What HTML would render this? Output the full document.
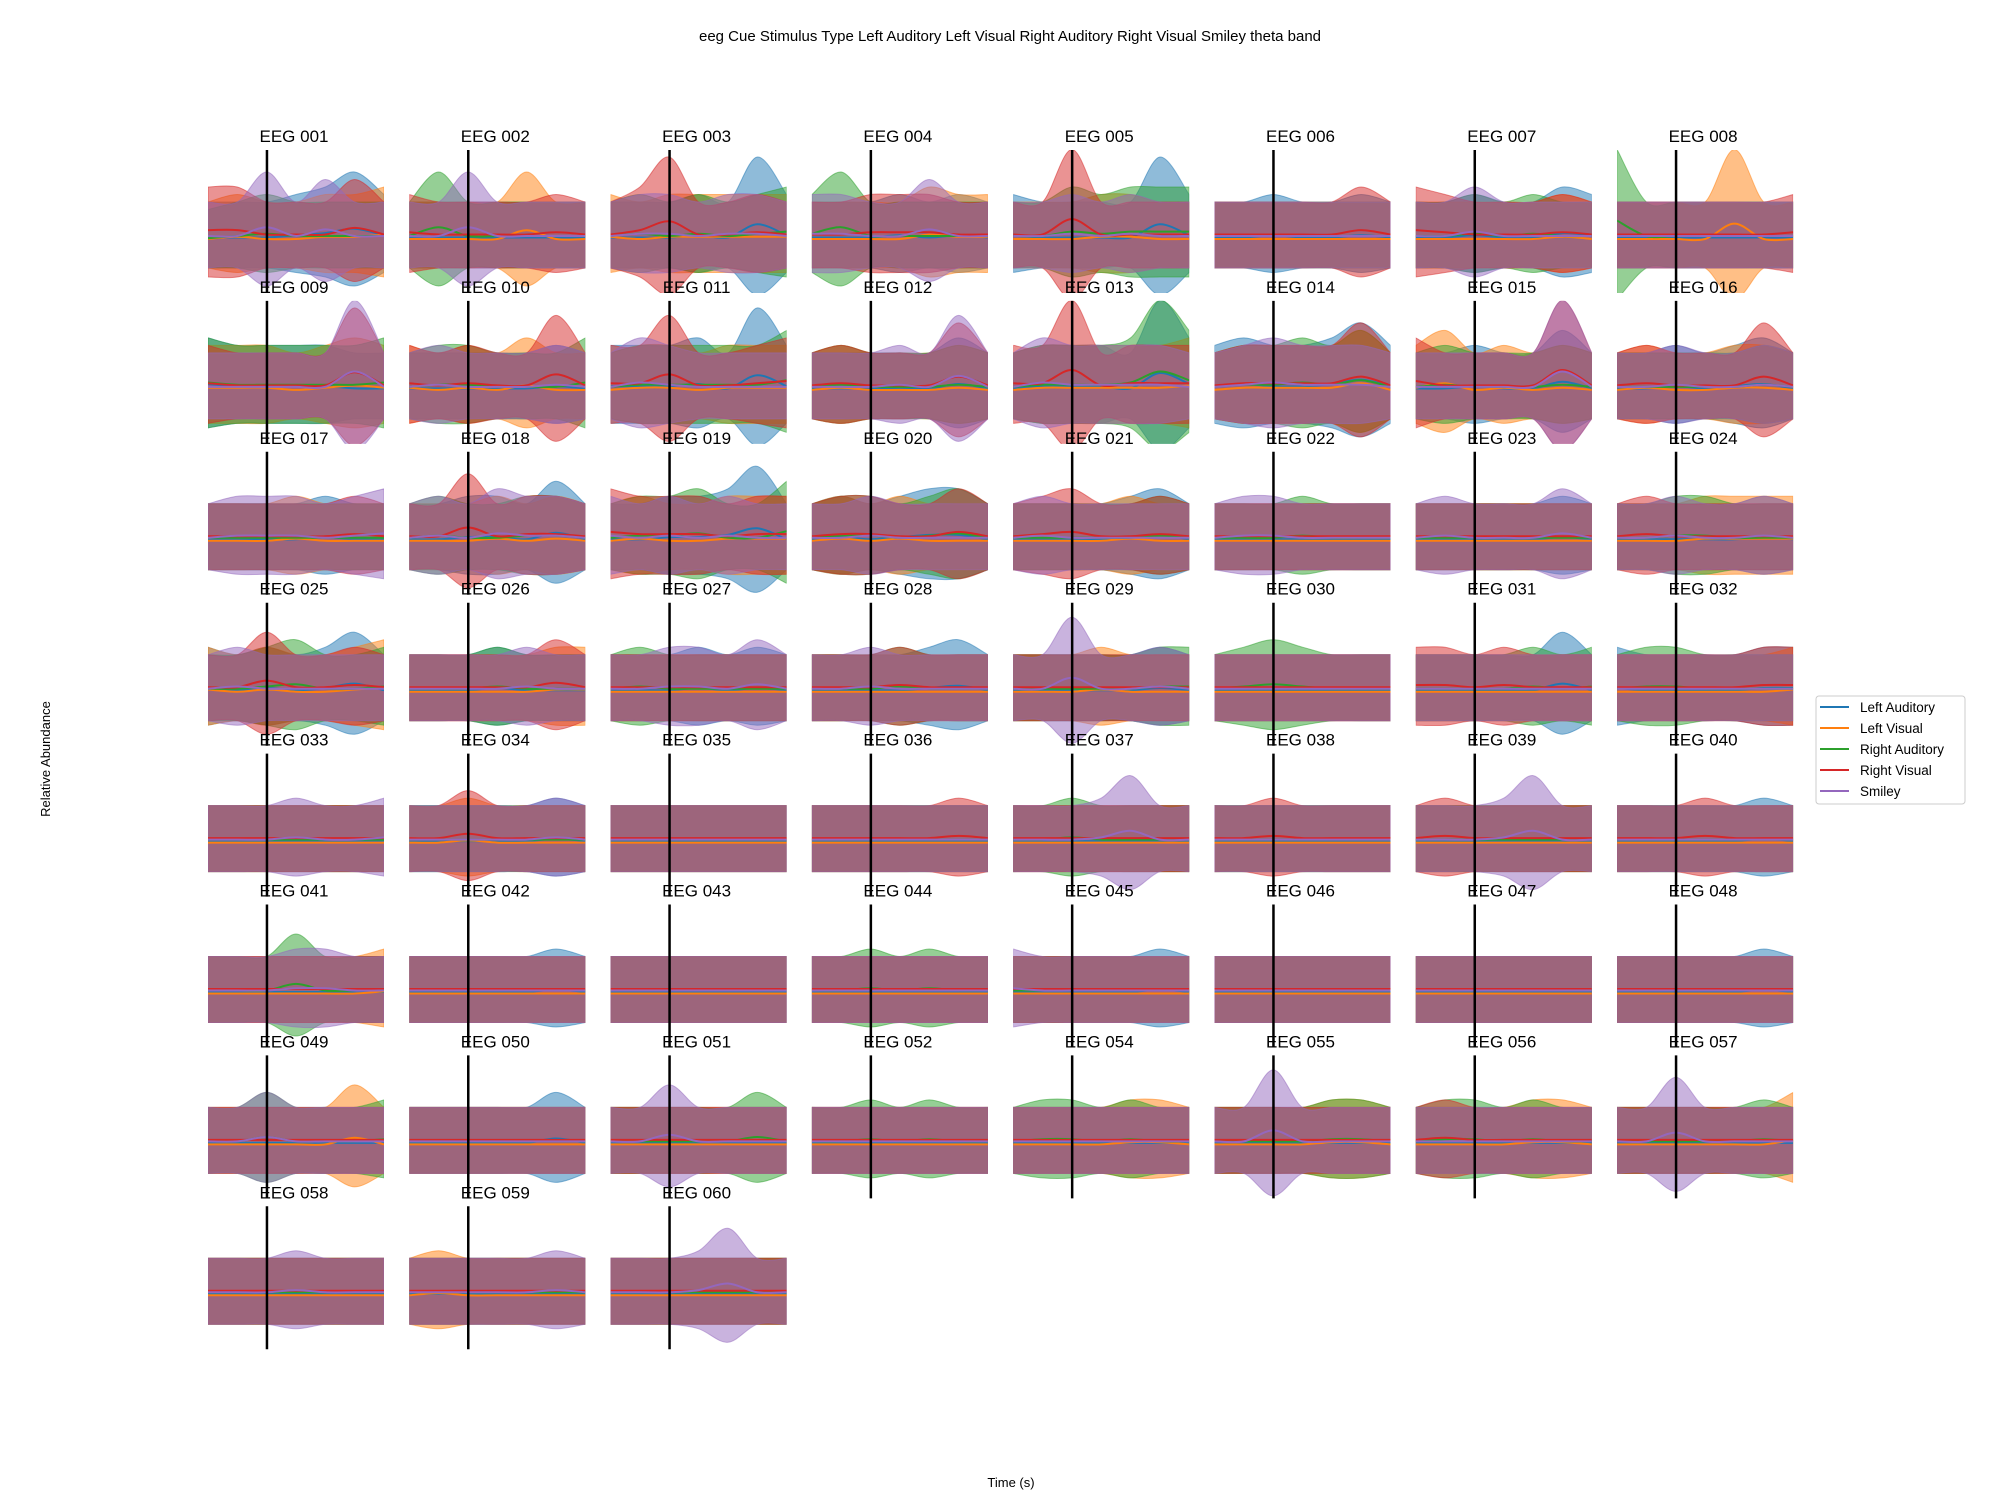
<!DOCTYPE html>
<html><head><meta charset="utf-8">
<style>
html,body{margin:0;padding:0;background:#fff;}
svg{display:block;font-family:"Liberation Sans","DejaVu Sans",sans-serif;}
</style></head>
<body>
<svg id="chart" width="2000" height="1500" viewBox="0 0 2000 1500" xmlns="http://www.w3.org/2000/svg">
<text x="1010" y="41" font-size="15" text-anchor="middle">eeg Cue Stimulus Type Left Auditory Left Visual Right Auditory Right Visual Smiley theta band</text>
<text x="1011" y="1487" font-size="13" text-anchor="middle">Time (s)</text>
<text x="50" y="759" font-size="13" text-anchor="middle" transform="rotate(-90 50 759)">Relative Abundance</text>
<g id="panels"></g>
<g>
<rect x="1816" y="696" width="149" height="108" rx="3" fill="#fff" stroke="#ccc"/>
</g>
<g id="legend-entries"></g>
</svg>
<script>
const seriesNames = ["Left Auditory","Left Visual","Right Auditory","Right Visual","Smiley"];
const seriesColors = ["#1f77b4","#ff7f0e","#2ca02c","#d62728","#9467bd"];
const panelNames = ["001","002","003","004","005","006","007","008","009","010","011","012","013","014","015","016","017","018","019","020","021","022","023","024","025","026","027","028","029","030","031","032","033","034","035","036","037","038","039","040","041","042","043","044","045","046","047","048","049","050","051","052","054","055","056","057","058","059","060"];
// band upper-extent levels (0-9) at 7 time points, per series (B,O,G,R,P)
const bandUpper = [
["2223463","2322334","1232222","4422252","2262522"],
["2222222","2222622","2622222","3222232","2262222"],
["2223283","3233333","2323234","2482232","2332332"],
["2223232","2222433","3622222","2233322","3322522"],
["3222283","2223322","2243444","2292222","2232322"],
["2232232","2222222","2222222","2222242","2222222"],
["2232243","2222232","2232322","4322232","2242222"],
["2222222","2222922","9222222","2222223","2222222"],
["4333322","3332343","4333334","3222282","2222292"],
["2222232","3232422","2332224","3232272","2322232"],
["3334283","2332333","2333335","3372234","2432222"],
["2222242","2322232","2322232","2322262","2223272"],
["2333294","2333334","2333495","3392333","2433332"],
["3433463","2333352","2334352","2333362","2343332"],
["2232252","3523232","2322232","4222292","2222292"],
["2232342","2322332","2222232","2322262","2232232"],
["2222322","2223222","2222222","2222232","2333234"],
["2233252","2223232","2322332","2262332","2324332"],
["2233472","2322333","2334225","4333233","3232322"],
["2323442","2323222","2332342","2332242","2232222"],
["2222342","2222322","2222232","2342232","2322222"],
["2222222","2222222","2223222","2222222","2332222"],
["2222232","2222222","2222222","2222222","2322242"],
["2222232","2223333","2233222","2322222","2232232"],
["3232352","3232234","2234223","2252232","2322222"],
["2223222","2222233","2223222","2222242","2222322"],
["2223232","2222222","2322222","2222222","2233242"],
["2222342","2222222","2223222","2223222","2232222"],
["2222232","2223222","2222233","2222222","2272232"],
["2222222","2222222","2343222","2222222","2222222"],
["2222252","2222222","2222323","3323222","2222222"],
["3222233","2222223","2332222","2222233","2222222"],
["2222222","2222222","2222222","2222222","2223223"],
["2222232","2232222","2222222","2242222","2222232"],
["2222222","2222222","2222222","2222222","2222222"],
["2222222","2222222","2222222","2222232","2222222"],
["2222222","2222222","2232222","2222222","2223622"],
["2222222","2222222","2222222","2232222","2222222"],
["2222222","2222222","2222222","2322222","2223622"],
["2222232","2222222","2222222","2223222","2222222"],
["2222222","2222223","2225222","2222222","2223322"],
["2222232","2222222","2222222","2222222","2222222"],
["2222222","2222222","2222222","2222222","2222222"],
["2222222","2222222","2232322","2222222","2222222"],
["2222232","2222222","2222222","2222222","3222222"],
["2222222","2222222","2222222","2222222","2222222"],
["2222222","2222222","2222222","2222222","2222222"],
["2222232","2222222","2222222","2222222","2222222"],
["2222222","2222252","2242223","2222222","2242222"],
["2222242","2222222","2222222","2222222","2222222"],
["2222222","2222222","2222242","2222222","2252222"],
["2222222","2222222","2232322","2222222","2222222"],
["2222222","2222332","2332322","2222222","2222222"],
["2222222","2222332","2222332","2222222","2272222"],
["2222222","2222332","2332322","2322222","2222222"],
["2222222","2222224","2222232","2222222","2262222"],
["2222222","2222222","2222222","2222222","2223222"],
["2222222","2322222","2222222","2222222","2222232"],
["2222222","2222222","2222222","2222222","2223622"]
];
const meanLevel = [4,5,3,2,3]; // relative mean offset per series

const NS="http://www.w3.org/2000/svg";
const AX_L=208, AX_T=150, AX_W=176, AX_H=143, COL_P=201.3, ROW_P=150.9, VLINE_F=0.335;
function xScale(i,n,left){return left+AX_W*i/(n-1);}
function upperY(d,c){return c-(25+d*7.5);}
function lowerY(d,c){return c+(26+Math.max(0,d-2)*4.5);}
function smooth(pts){
  let s="M"+pts[0][0]+","+pts[0][1];
  for(let i=0;i<pts.length-1;i++){
    const p0=pts[Math.max(0,i-1)],p1=pts[i],p2=pts[i+1],p3=pts[Math.min(pts.length-1,i+2)];
    const c1=[p1[0]+(p2[0]-p0[0])/6,p1[1]+(p2[1]-p0[1])/6];
    const c2=[p2[0]-(p3[0]-p1[0])/6,p2[1]-(p3[1]-p1[1])/6];
    s+=" C"+c1[0].toFixed(1)+","+c1[1].toFixed(1)+" "+c2[0].toFixed(1)+","+c2[1].toFixed(1)+" "+p2[0].toFixed(1)+","+p2[1].toFixed(1);
  }
  return s;
}
function smoothNoM(pts){return smooth(pts).replace(/^M/,"L");}
const root=document.getElementById("panels");
const defs=document.createElementNS(NS,"defs");root.appendChild(defs);
panelNames.forEach((name,pi)=>{
  const col=pi%8,row=Math.floor(pi/8);
  const left=AX_L+col*COL_P, top=AX_T+row*ROW_P, c=top+92;
  const cp=document.createElementNS(NS,"clipPath");cp.setAttribute("id","cp"+pi);
  const cr=document.createElementNS(NS,"rect");cr.setAttribute("x",left);cr.setAttribute("y",top);cr.setAttribute("width",AX_W);cr.setAttribute("height",AX_H);
  cp.appendChild(cr);defs.appendChild(cp);
  const g=document.createElementNS(NS,"g");
  
  
  root.appendChild(g);
  const fg=document.createElementNS(NS,"g");fg.setAttribute("clip-path","url(#cp"+pi+")");g.appendChild(fg);
  const levels=bandUpper[pi];
  levels.forEach((str,si)=>{
    const d=str.split("").map(Number);
    const up=d.map((v,i)=>[xScale(i,d.length,left),upperY(v,c)]);
    const lo=d.map((v,i)=>[xScale(i,d.length,left),lowerY(v,c)]).reverse();
    const p=document.createElementNS(NS,"path");
    
    
    p.setAttribute("d",smooth(up)+" "+smoothNoM(lo)+" Z");
    p.setAttribute("fill",seriesColors[si]);p.setAttribute("fill-opacity","0.5");
    p.setAttribute("stroke",seriesColors[si]);p.setAttribute("stroke-opacity","0.5");p.setAttribute("stroke-width","1");
    fg.appendChild(p);
  });
  levels.forEach((str,si)=>{
    const d=str.split("").map(Number);
    const m=d.map((v,i)=>[xScale(i,d.length,left),c-6+(meanLevel[si]-3)*1.5-(v-2)*2.2]);
    const l=document.createElementNS(NS,"path");
    
    
    l.setAttribute("d",smooth(m));l.setAttribute("fill","none");
    l.setAttribute("stroke",seriesColors[si]);l.setAttribute("stroke-width","2");
    fg.appendChild(l);
  });
  const vl=document.createElementNS(NS,"line");
  
  
  const vx=left+AX_W*VLINE_F;
  vl.setAttribute("x1",vx);vl.setAttribute("x2",vx);vl.setAttribute("y1",top);vl.setAttribute("y2",top+AX_H);
  vl.setAttribute("stroke","#000");vl.setAttribute("stroke-width","2.5");
  g.appendChild(vl);
  const t=document.createElementNS(NS,"text");
  
  
  t.setAttribute("x",left+AX_W/2-2);t.setAttribute("y",top-8);t.setAttribute("font-size","17");t.setAttribute("text-anchor","middle");
  t.textContent="EEG "+name;g.appendChild(t);
});
const lg=document.getElementById("legend-entries");
seriesNames.forEach((n,i)=>{
  const y=707+i*21;
  const l=document.createElementNS(NS,"line");
  
  
  l.setAttribute("x1",1820);l.setAttribute("x2",1849);l.setAttribute("y1",y);l.setAttribute("y2",y);
  l.setAttribute("stroke",seriesColors[i]);l.setAttribute("stroke-width","2");lg.appendChild(l);
  const t=document.createElementNS(NS,"text");
  
  
  t.setAttribute("x",1860);t.setAttribute("y",y+5);t.setAttribute("font-size","13.5");
  t.textContent=n;lg.appendChild(t);
});
</script>
</body></html>
